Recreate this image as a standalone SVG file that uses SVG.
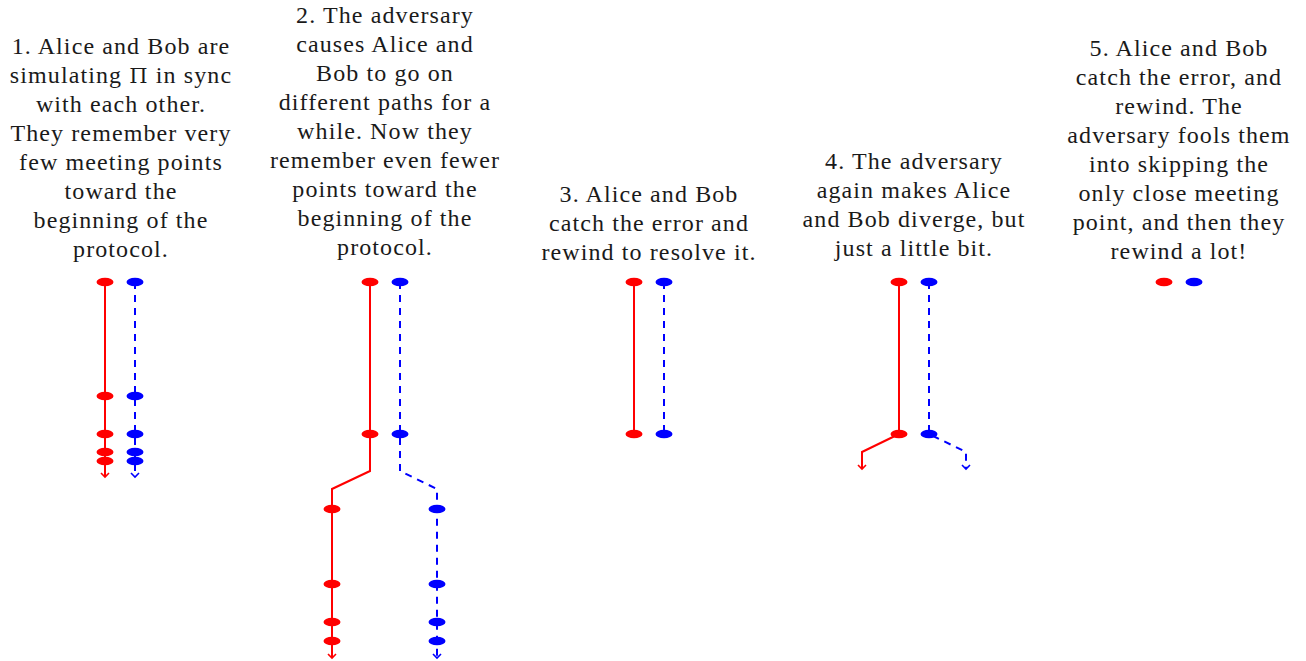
<svg xmlns="http://www.w3.org/2000/svg" width="1306" height="661" viewBox="0 0 1306 661">
<defs>
<marker id="mr" markerWidth="12" markerHeight="12" refX="6" refY="6" orient="auto" markerUnits="userSpaceOnUse"><path d="M2,2 L6,6 L2,10" fill="none" stroke="#f00" stroke-width="1.6"/></marker>
<marker id="mb" markerWidth="12" markerHeight="12" refX="6" refY="6" orient="auto" markerUnits="userSpaceOnUse"><path d="M2,2 L6,6 L2,10" fill="none" stroke="#00f" stroke-width="1.6"/></marker>
<ellipse id="rd" rx="8.5" ry="4.3" fill="#f00"/>
<ellipse id="bd" rx="8.5" ry="4.3" fill="#00f"/>
</defs>
<rect width="1306" height="661" fill="#fff"/>
<g id="captions" font-family="Liberation Serif" font-size="24" fill="#1a1a1a" text-anchor="middle" letter-spacing="1.1">
<g id="caption1">
<text x="121" y="54">1. Alice and Bob are</text>
<text x="121" y="83">simulating <tspan font-family="DejaVu Serif" font-size="21">Π</tspan> in sync</text>
<text x="121" y="112">with each other.</text>
<text x="121" y="141">They remember very</text>
<text x="121" y="170">few meeting points</text>
<text x="121" y="199">toward the</text>
<text x="121" y="228">beginning of the</text>
<text x="121" y="257">protocol.</text>
</g>
<g id="caption2">
<text x="385" y="23">2. The adversary</text>
<text x="385" y="52">causes Alice and</text>
<text x="385" y="81">Bob to go on</text>
<text x="385" y="110">different paths for a</text>
<text x="385" y="139">while. Now they</text>
<text x="385" y="168">remember even fewer</text>
<text x="385" y="197">points toward the</text>
<text x="385" y="226">beginning of the</text>
<text x="385" y="255">protocol.</text>
</g>
<g id="caption3">
<text x="649" y="202">3. Alice and Bob</text>
<text x="649" y="231">catch the error and</text>
<text x="649" y="260">rewind to resolve it.</text>
</g>
<g id="caption4">
<text x="914" y="169">4. The adversary</text>
<text x="914" y="198">again makes Alice</text>
<text x="914" y="227">and Bob diverge, but</text>
<text x="914" y="256">just a little bit.</text>
</g>
<g id="caption5">
<text x="1179" y="56">5. Alice and Bob</text>
<text x="1179" y="85">catch the error, and</text>
<text x="1179" y="114">rewind. The</text>
<text x="1179" y="143">adversary fools them</text>
<text x="1179" y="172">into skipping the</text>
<text x="1179" y="201">only close meeting</text>
<text x="1179" y="230">point, and then they</text>
<text x="1179" y="259">rewind a lot!</text>
</g>
</g>
<g id="connectors" fill="none" stroke-width="2">
<g stroke="#f00">
<path d="M105,282 V477" marker-end="url(#mr)"/>
<path d="M370,282 V471 L332,489 V658" marker-end="url(#mr)"/>
<path d="M634,282 V434"/>
<path d="M899,282 V434 L862,452 V469" marker-end="url(#mr)"/>
</g>
<g stroke="#00f" stroke-dasharray="7 6">
<path d="M135,282 V477" marker-end="url(#mb)"/>
<path d="M400,282 V471 L437,489 V658" marker-end="url(#mb)"/>
<path d="M664,282 V434"/>
<path d="M929,282 V434 L966,452 V469" marker-end="url(#mb)"/>
</g>
</g>
<g id="panel1">
<use href="#rd" x="105" y="282"/><use href="#bd" x="135" y="282"/>
<use href="#rd" x="105" y="396"/><use href="#bd" x="135" y="396"/>
<use href="#rd" x="105" y="434"/><use href="#bd" x="135" y="434"/>
<use href="#rd" x="105" y="452"/><use href="#bd" x="135" y="452"/>
<use href="#rd" x="105" y="461"/><use href="#bd" x="135" y="461"/>
</g>
<g id="panel2">
<use href="#rd" x="370" y="282"/><use href="#bd" x="400" y="282"/>
<use href="#rd" x="370" y="434"/><use href="#bd" x="400" y="434"/>
<use href="#rd" x="332" y="509"/><use href="#bd" x="437" y="509"/>
<use href="#rd" x="332" y="584"/><use href="#bd" x="437" y="584"/>
<use href="#rd" x="332" y="622"/><use href="#bd" x="437" y="622"/>
<use href="#rd" x="332" y="641"/><use href="#bd" x="437" y="641"/>
</g>
<g id="panel3">
<use href="#rd" x="634" y="282"/><use href="#bd" x="664" y="282"/>
<use href="#rd" x="634" y="434"/><use href="#bd" x="664" y="434"/>
</g>
<g id="panel4">
<use href="#rd" x="899" y="282"/><use href="#bd" x="929" y="282"/>
<use href="#rd" x="899" y="434"/><use href="#bd" x="929" y="434"/>
</g>
<g id="panel5">
<use href="#rd" x="1164" y="282"/><use href="#bd" x="1194" y="282"/>
</g>
</svg>
